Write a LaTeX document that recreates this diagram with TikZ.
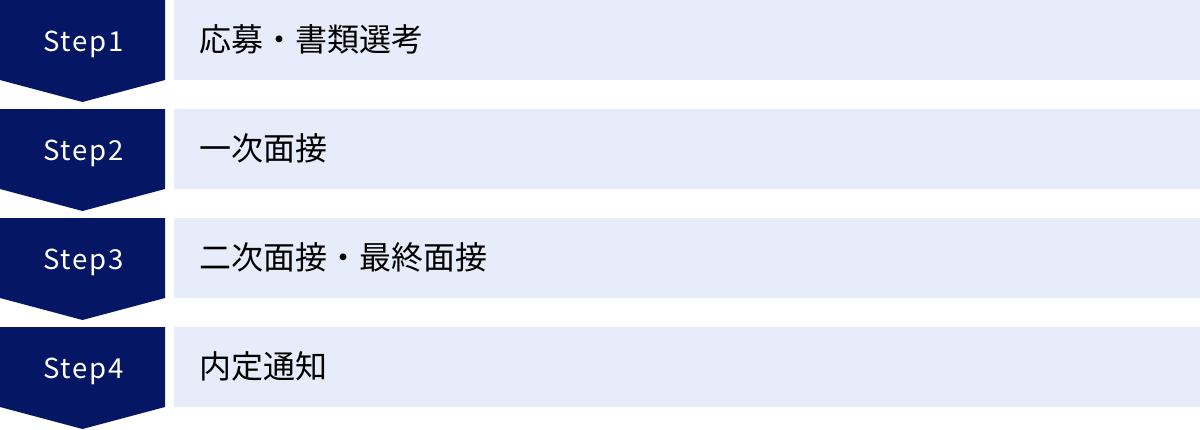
\documentclass[tikz,border=0pt]{standalone}
\usepackage{fontspec}
\setmainfont{Noto Sans CJK JP}
\newfontfamily\stepfont[LetterSpace=7]{Noto Sans CJK JP}
\newfontfamily\jpfont{Noto Sans CJK JP}
\definecolor{navy}{RGB}{5,23,100}
\definecolor{paleblue}{RGB}{230,236,250}
\tikzset{
  stepshape/.style={fill=navy, draw=none},
  bandbox/.style={fill=paleblue, draw=none},
  steplabel/.style={text=white, font=\stepfont\fontsize{27.5}{32}\selectfont, inner sep=0pt, anchor=base},
  bandlabel/.style={text=black, font=\jpfont\fontsize{32}{37}\selectfont, inner sep=0pt, anchor=base west},
}
\begin{document}
\begin{tikzpicture}[x=1pt,y=-1pt]
\useasboundingbox (0,0) rectangle (1200,429);
\foreach \i/\lab/\txt in {0/1/応募・書類選考, 1/2/一次面接, 2/3/二次面接・最終面接, 3/4/内定通知}{
  \pgfmathsetmacro{\top}{\i*109}
  \fill[stepshape] (0,\top) -- (165,\top) -- (165,\top+80) -- (82.5,\top+102) -- (0,\top+80) -- cycle;
  \fill[bandbox] (174,\top) rectangle (1200,\top+80);
  \node[steplabel] (step\lab) at (83.5,\top+51.5) {Step\lab};
  \node[bandlabel] (band\lab) at (199.5,\top+51.5) {\txt};
}
\end{tikzpicture}
\end{document}
